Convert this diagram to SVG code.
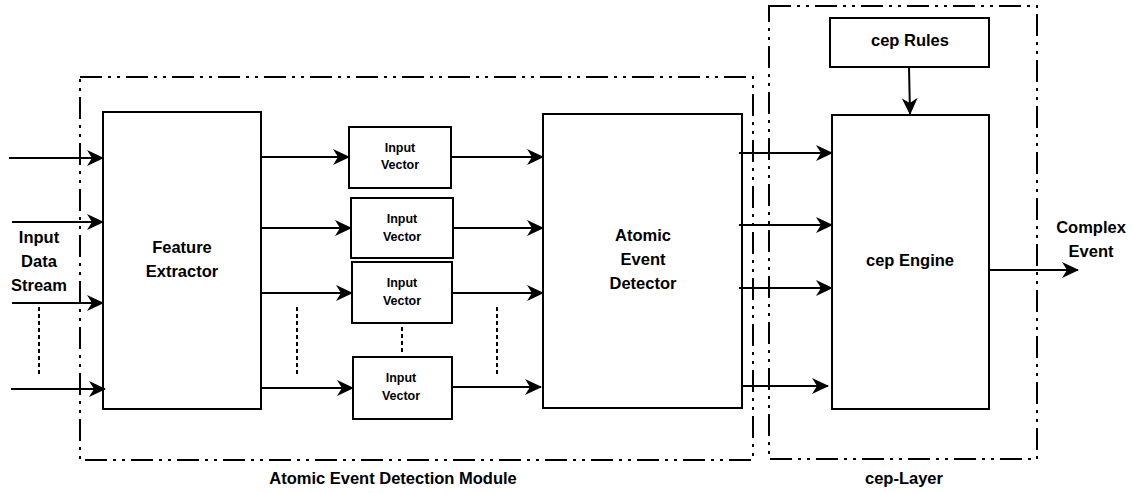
<svg xmlns="http://www.w3.org/2000/svg" width="1133" height="493" viewBox="0 0 1133 493">
<style>
.box{fill:#fff;stroke:#000;stroke-width:2}
.grp{fill:none;stroke:#000;stroke-width:2;stroke-dasharray:22 6 3 6 3 6}
.t{font-family:"Liberation Sans",Arial,sans-serif;font-weight:bold;font-size:16.5px;fill:#000;text-anchor:middle}
.s{font-size:12.5px}
.c{fill:none;stroke:#000;stroke-width:2;marker-end:url(#ah)}
.d{fill:none;stroke:#000;stroke-width:2;stroke-dasharray:4 3}
</style>
<defs>
<marker id="ah" markerUnits="userSpaceOnUse" markerWidth="17" markerHeight="16" refX="16" refY="8" orient="auto">
<path d="M0,0 L17,8 L0,16 L5,8 Z" fill="#000"/>
</marker>
</defs>
<rect width="1133" height="493" fill="#fff"/>
<g id="module-group">
<rect class="grp" x="80" y="77" width="673" height="383"/>
<text class="t" x="393" y="484">Atomic Event Detection Module</text>
</g>
<g id="cep-layer-group">
<rect class="grp" x="769" y="6" width="268" height="453"/>
<text class="t" x="904" y="484">cep-Layer</text>
</g>
<g id="input-label">
<text class="t" x="39" y="243">Input</text>
<text class="t" x="39" y="267">Data</text>
<text class="t" x="39" y="291">Stream</text>
</g>
<g id="feature-extractor">
<rect class="box" x="103" y="112" width="158" height="297"/>
<text class="t" x="182" y="253">Feature</text>
<text class="t" x="182" y="277">Extractor</text>
</g>
<g id="input-vector-1">
<rect class="box" x="349" y="127" width="102" height="61"/>
<text class="t s" x="400" y="152">Input</text>
<text class="t s" x="400" y="169">Vector</text>
</g>
<g id="input-vector-2">
<rect class="box" x="351" y="198" width="102" height="60"/>
<text class="t s" x="402" y="223">Input</text>
<text class="t s" x="402" y="241">Vector</text>
</g>
<g id="input-vector-3">
<rect class="box" x="352" y="262" width="100" height="61"/>
<text class="t s" x="402" y="287">Input</text>
<text class="t s" x="402" y="305">Vector</text>
</g>
<g id="input-vector-4">
<rect class="box" x="353" y="357" width="99" height="62"/>
<text class="t s" x="401" y="382">Input</text>
<text class="t s" x="401" y="400">Vector</text>
</g>
<g id="atomic-event-detector">
<rect class="box" x="543" y="114" width="199" height="294"/>
<text class="t" x="643" y="241">Atomic</text>
<text class="t" x="643" y="265">Event</text>
<text class="t" x="643" y="289">Detector</text>
</g>
<g id="cep-rules">
<rect class="box" x="830" y="18" width="159" height="49"/>
<text class="t" x="910" y="46">cep Rules</text>
</g>
<g id="cep-engine">
<rect class="box" x="832" y="115" width="157" height="294"/>
<text class="t" x="910" y="266">cep Engine</text>
</g>
<g id="output-label">
<text class="t" x="1091" y="233">Complex</text>
<text class="t" x="1091" y="257">Event</text>
</g>
<g id="connectors">
<line class="c" x1="9" y1="158" x2="103" y2="158"/>
<line class="c" x1="12" y1="222" x2="103" y2="222"/>
<line class="c" x1="12" y1="303" x2="103" y2="303"/>
<line class="c" x1="11" y1="389" x2="105" y2="389"/>
<line class="d" x1="39" y1="307" x2="39" y2="375"/>
<line class="c" x1="261" y1="157" x2="349" y2="157"/>
<line class="c" x1="261" y1="228" x2="351" y2="228"/>
<line class="c" x1="261" y1="293" x2="352" y2="293"/>
<line class="c" x1="261" y1="388" x2="353" y2="388"/>
<line class="d" x1="297" y1="307" x2="297" y2="375"/>
<line class="d" x1="402" y1="327" x2="402" y2="355"/>
<line class="d" x1="497" y1="307" x2="497" y2="375"/>
<line class="c" x1="451" y1="157" x2="543" y2="157"/>
<line class="c" x1="453" y1="228" x2="543" y2="228"/>
<line class="c" x1="452" y1="293" x2="543" y2="293"/>
<line class="c" x1="452" y1="387" x2="541" y2="387"/>
<line class="c" x1="739" y1="153" x2="832" y2="153"/>
<line class="c" x1="739" y1="225" x2="832" y2="225"/>
<line class="c" x1="739" y1="288" x2="832" y2="288"/>
<line class="c" x1="742" y1="386" x2="828" y2="386"/>
<line class="c" x1="909" y1="67" x2="910" y2="114"/>
<line class="c" x1="989" y1="270" x2="1078" y2="270"/>
</g>
</svg>
